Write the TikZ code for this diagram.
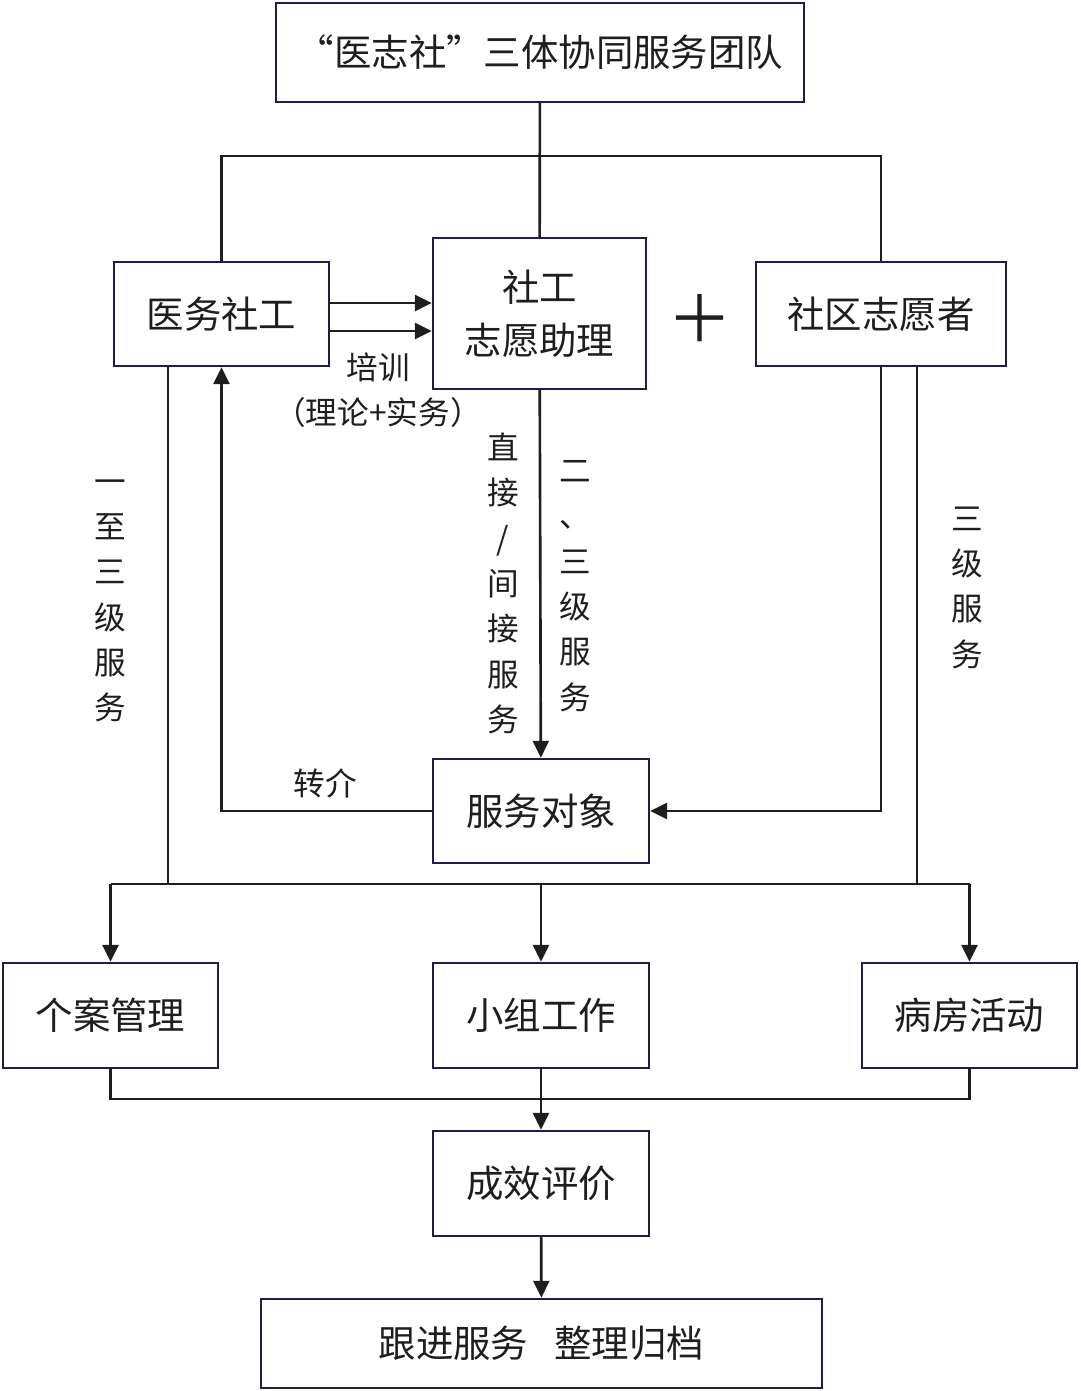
\documentclass[tikz,border=0pt]{standalone}
\usepackage{fontspec}
\setmainfont{Noto Sans CJK SC}
\usetikzlibrary{arrows.meta}
\definecolor{boxblue}{HTML}{1B1F4B}
\definecolor{inkgray}{HTML}{1E1E1E}

\begin{document}
\begin{tikzpicture}[x=0.02cm, y=-0.02cm, >={Triangle[length=0.34cm,width=0.32cm]},
        box/.style={draw=boxblue, line width=1.4pt, fill=white, text=inkgray, inner sep=0pt,
            align=center, font=\fontsize{21.3}{30}\selectfont},
        lbl/.style={text=inkgray, inner sep=0pt, align=center, font=\fontsize{18}{25.8}\selectfont},
        wire/.style={draw=inkgray, line width=1.5pt}]
        \useasboundingbox (0, 0) rectangle (1080, 1391);
        \node [box, minimum width=10.56cm, minimum height=1.98cm] (T) at (540, 52.5) {“医志社”三体协同服务团队};
        \node [box, minimum width=4.3cm, minimum height=2.08cm] (MS) at (221.5, 314) {医务社工};
        \node [box, minimum width=4.26cm, minimum height=3.02cm] (SA) at (539.5, 313.5) {社工\\志愿助理};
        \node [box, minimum width=5cm, minimum height=2.08cm] (CV) at (881, 314) {社区志愿者};
        \node [text=inkgray, font=\fontsize{37}{37}\selectfont] (PL) at (700, 318) {＋};
        \node [box, minimum width=4.32cm, minimum height=2.08cm] (SO) at (541, 811) {服务对象};
        \node [box, minimum width=4.3cm, minimum height=2.1cm] (CM) at (110.5, 1015.5) {个案管理};
        \node [box, minimum width=4.32cm, minimum height=2.1cm] (GW) at (541, 1015.5) {小组工作};
        \node [box, minimum width=4.3cm, minimum height=2.1cm] (WA) at (969.5, 1015.5) {病房活动};
        \node [box, minimum width=4.32cm, minimum height=2.1cm] (EV) at (541, 1183.5) {成效评价};
        \node [box, minimum width=11.22cm, minimum height=1.78cm] (FU) at (541.5, 1343.5) {跟进服务\hspace{0.7em}整理归档};
        % labels
        \node [lbl] (TR) at (378, 367) {培训};
        \node [lbl] (TRb) at (378, 412) {（理论+实务）};
        \node [lbl] (DI) at (503, 583.5) {直\\接\\/\\间\\接\\服\\务};
        \node [lbl] (TT) at (575, 586) {二\\、\\三\\级\\服\\务};
        \node [lbl] (OT) at (110, 601) {一\\至\\三\\级\\服\\务};
        \node [lbl] (TH) at (967, 587.5) {三\\级\\服\\务};
        \node [lbl] (RF) at (325, 783) {转介};
        \coordinate (TJ) at (540, 156);
        \coordinate (ML) at (168, 884);
        \coordinate (MR) at (917, 884);
        \coordinate (BB) at (541, 1099);
        % team
        \draw [wire] (T) -- (SA);
        \draw [wire] (MS.north) |- (TJ) -| (CV.north);
        \draw [wire, ->] (MS.east |- 0,303) -- (SA.west |- 0,303);
        \draw [wire, ->] (MS.east |- 0,331) -- (SA.west |- 0,331);
        % services
        \draw [wire, ->] (SA) -- (SO);
        \draw [wire, ->] (SO.west) -| (MS.south);
        \draw [wire, ->] (CV.south) |- (SO.east);
        \draw [wire] (MS.south -| ML) -- (ML);
        \draw [wire] (CV.south -| MR) -- (MR);
        \draw [wire] (CM.north |- ML) -- (WA.north |- ML);
        \draw [wire, ->] (CM.north |- ML) -- (CM.north);
        \draw [wire, ->] (GW.north |- ML) -- (GW.north);
        \draw [wire, ->] (WA.north |- ML) -- (WA.north);
        % evaluation
        \draw [wire] (CM.south) |- (BB) -| (WA.south);
        \draw [wire, ->] (GW) -- (EV);
        \draw [wire, ->] (EV) -- (FU);
\end{tikzpicture}
\end{document}
